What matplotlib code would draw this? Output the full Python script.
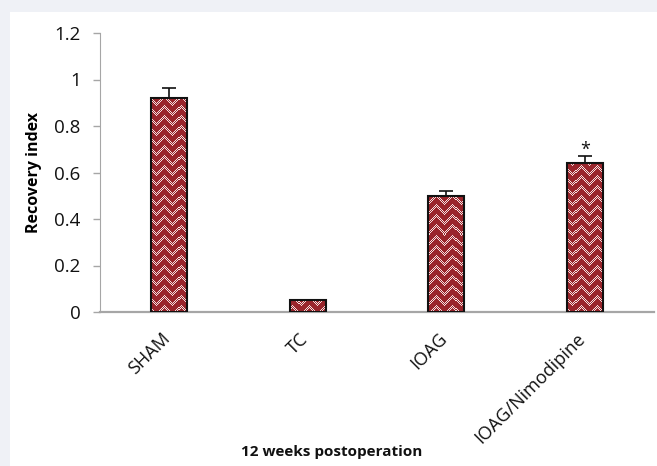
import numpy as np
import matplotlib
matplotlib.use("Agg")
import matplotlib.pyplot as plt
from matplotlib.patches import Rectangle

categories = ["SHAM", "TC", "IOAG", "IOAG/Nimodipine"]
recovery = [0.92, 0.05, 0.50, 0.64]
sem = [0.045, 0.003, 0.022, 0.032]
significant = [False, False, False, True]
y_ticks = [0, 0.2, 0.4, 0.6, 0.8, 1.0, 1.2]
y_tick_labels = ["0", "0.2", "0.4", "0.6", "0.8", "1", "1.2"]

plt.rcParams["font.family"] = ["Open Sans", "DejaVu Sans"]

W, H = 657, 466
fig = plt.figure(figsize=(W / 100, H / 100), dpi=100)
fig.patch.set_facecolor("white")

# light frame along the left and top edges
frame = "#eff1f6"
fig.patches.append(Rectangle((0, 0), 10 / W, 1, transform=fig.transFigure,
                             facecolor=frame, edgecolor="none", zorder=0))
fig.patches.append(Rectangle((0, 1 - 12 / H), 1, 12 / H, transform=fig.transFigure,
                             facecolor=frame, edgecolor="none", zorder=0))

ax_left, ax_right, ax_bottom, ax_top = 100, 654, 154, 433
ax = fig.add_axes([ax_left / W, ax_bottom / H, (ax_right - ax_left) / W,
                   (ax_top - ax_bottom) / H])
ax.set_facecolor("none")

x = np.arange(len(categories))
bars = ax.bar(x, recovery, width=0.26, facecolor="#9e2a30", edgecolor="#111111",
              linewidth=1.5, zorder=3)
ax.errorbar(x, recovery, yerr=[np.zeros(len(sem)), sem], fmt="none",
            ecolor="#111111", elinewidth=1.2, capsize=5, capthick=1.2, zorder=4)

ax.set_xlim(-0.5, len(categories) - 0.5)
ax.set_ylim(0, 1.2)

# stepped chevron texture, one texel per screen pixel
pw, ph = ax_right - ax_left, ax_top - ax_bottom
yy, xx = np.mgrid[0:ph, 0:pw]
period_x, period_y = 16, 10
tri = np.abs((xx % period_x) - period_x // 2)
band = ((yy + tri) % period_y) < 4
dots = ((xx + yy) % 2) == 0
white = band & dots
tex = np.zeros((ph, pw, 3))
base = np.array([0x9a, 0x25, 0x2c]) / 255
light = np.array([0xf6, 0xe2, 0xe2]) / 255
tex[:] = base
tex[white] = light
for b in bars:
    im = ax.imshow(tex, extent=(-0.5, len(categories) - 0.5, 0, 1.2),
                   aspect="auto", interpolation="nearest", zorder=3.5,
                   origin="upper")
    im.set_clip_path(b)
    b.set_facecolor("none")
    b.set_zorder(3.6)

for xi, v, e, s in zip(x, recovery, sem, significant):
    if s:
        ax.text(xi, v + e - 0.012, "*", ha="center", va="bottom",
                fontsize=13, color="#111111")

ax.set_yticks(y_ticks)
ax.set_yticklabels(y_tick_labels, fontsize=13.5, color="#111111")
ax.set_xticks(x)
ax.set_xticklabels([])

# rotated category labels hanging below each bar
for xi, name in zip(x, categories):
    ax.annotate(name, xy=(xi, 0), xycoords=("data", "axes fraction"),
                xytext=(-2, -24), textcoords="offset pixels",
                rotation=45, ha="right", va="center", rotation_mode="anchor",
                fontsize=13, color="#111111", annotation_clip=False)

ax.tick_params(axis="x", length=0)
ax.tick_params(axis="y", length=5, width=1, color="#a6a6a6", pad=9)
for side in ["top", "right"]:
    ax.spines[side].set_visible(False)
ax.spines["left"].set_color("#a6a6a6")
ax.spines["bottom"].set_color("#a6a6a6")
ax.spines["bottom"].set_linewidth(1.6)

ax.set_ylabel("Recovery index", fontsize=11.5, fontweight="bold")
ax.yaxis.set_label_coords(-58 / (ax_right - ax_left), 0.5)
fig.text(332 / W, 1 - 452 / H, "12 weeks postoperation", ha="center",
         va="center", fontsize=11, fontweight="bold", color="#111111")

fig.savefig("out.png", dpi=100, facecolor=fig.get_facecolor())
